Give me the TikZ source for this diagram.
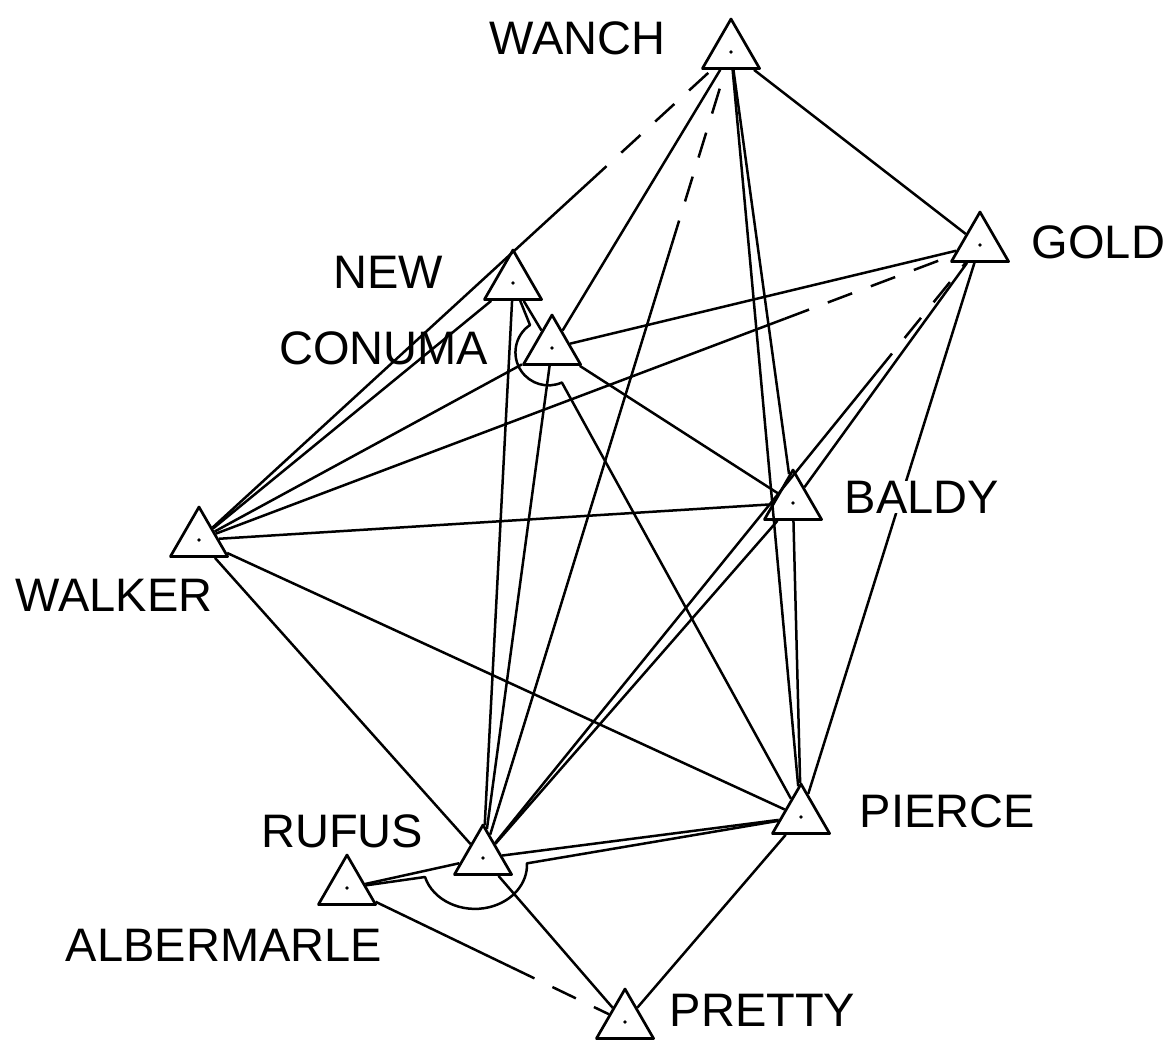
\documentclass[tikz,border=0pt]{standalone}
\usepackage{fontspec}
\setmainfont{Liberation Sans}
\usetikzlibrary{shapes.geometric,positioning,calc}
\tikzset{
station/.style={
  regular polygon,
  regular polygon sides=3,
  minimum size=66pt,
  inner sep=0pt,
  draw,
  line width=2.7pt
  },
stname/.style={
  inner sep=0pt,
  font=\fontsize{47}{50}\selectfont
  },
sight/.style={line width=2.5pt},
halfsight/.style={
  sight,
  dash pattern=on 26pt off 20pt
  }
}

\begin{document}
\begin{tikzpicture}[x=1pt,y=-1pt,line join=round]
\useasboundingbox (0,0) rectangle (1165,1042);

\node[station] (wanch) at (731,52) {};
\node[station] (gold) at (980,245) {};
\node[station] (new) at (513,283) {};
\node[station] (conuma) at (552,348) {};
\node[station] (baldy) at (793,503) {};
\node[station] (walker) at (199,540) {};
\node[station] (pierce) at (801,817) {};
\node[station] (rufus) at (483,858) {};
\node[station] (albermarle) at (347,888) {};
\node[station] (pretty) at (625,1022) {};

\foreach \s in {wanch,gold,new,conuma,baldy,walker,pierce,rufus,albermarle,pretty}
  \fill (\s) circle (1.8);

% full sights
\foreach \a/\b in {wanch/gold,wanch/conuma,wanch/baldy,wanch/pierce,
  gold/conuma,gold/baldy,gold/pierce,
  new/walker,new/conuma,new/rufus,
  conuma/walker,conuma/baldy,conuma/rufus,
  walker/baldy,walker/pierce,walker/rufus,
  baldy/pierce,baldy/rufus,
  pierce/rufus,pierce/pretty,
  rufus/albermarle,rufus/pretty}
  \draw[sight] (\a) -- (\b);

% sights dashed at one end
\coordinate (wwbreak) at ($(walker)!0.73!(wanch)$);
\coordinate (rwbreak) at ($(rufus)!0.76!(wanch)$);
\coordinate (wgbreak) at ($(walker)!0.75!(gold)$);
\coordinate (rgbreak) at ($(rufus)!0.79!(gold)$);
\coordinate (apbreak) at ($(albermarle)!0.59!(pretty)$);

\draw[sight] (walker) -- (wwbreak);
\draw[halfsight] (wwbreak) -- (wanch);
\draw[sight] (rufus) -- (rwbreak);
\draw[halfsight] (rwbreak) -- (wanch);
\draw[sight] (walker) -- (wgbreak);
\draw[halfsight] (wgbreak) -- (gold);
\draw[sight] (rufus) -- (rgbreak);
\draw[halfsight] (rgbreak) -- (gold);
\draw[sight] (albermarle) -- (apbreak);
\draw[halfsight] (apbreak) -- (pretty);

% sights passing round a station
\coordinate (cnarc) at (530,325);
\coordinate (rfarc) at (425,877);
\draw[sight] (new) -- (cnarc) arc[start angle=236,end angle=66,radius=33] -- (pierce);
\draw[sight] (albermarle) -- (rfarc) arc[start angle=164,end angle=-2,x radius=52,y radius=44] -- (pierce);

\node[stname, left=45pt of wanch, yshift=14pt] (wanchlbl) {WANCH};
\node[stname, right=31pt of gold, yshift=3pt] (goldlbl) {GOLD};
\node[stname, left=49pt of new, yshift=11pt] (newlbl) {NEW};
\node[stname, left=43pt of conuma] (conumalbl) {CONUMA};
\node[stname, fill=white, right=31pt of baldy, yshift=6pt] (baldylbl) {BALDY};
\node[stname, below=21pt of walker, xshift=-85pt] (walkerlbl) {WALKER};
\node[stname, right=38pt of pierce, yshift=6pt] (piercelbl) {PIERCE};
\node[stname, left=39pt of rufus, yshift=27pt] (rufuslbl) {RUFUS};
\node[stname, below=23pt of albermarle, xshift=-123pt] (albermarlelbl) {ALBERMARLE};
\node[stname, right=24pt of pretty, yshift=12pt] (prettylbl) {PRETTY};
\end{tikzpicture}
\end{document}
